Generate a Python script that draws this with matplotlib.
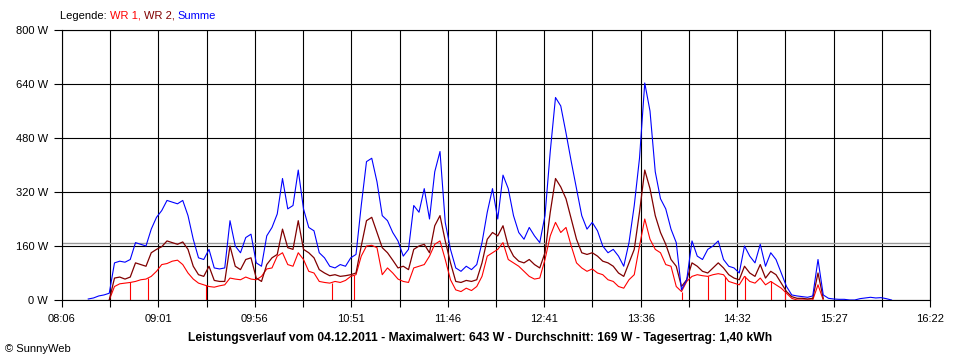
import numpy as np
import matplotlib.pyplot as plt

plt.rcParams['font.family'] = ['Liberation Sans', 'DejaVu Sans']
nan = np.nan

# sample times, minutes after midnight (every 3 min from 08:21)
minutes = np.arange(501, 961, 3)

summe = [3, 6, 12, 15, 20, 110, 115, 112, 120, 170,
         165, 160, 210, 245, 265, 295, 290, 285, 295, 250,
         180, 125, 120, 150, 95, 92, 95, 235, 160, 140,
         185, 195, 110, 100, 190, 215, 255, 360, 270, 280,
         385, 270, 215, 205, 140, 125, 100, 95, 105, 100,
         125, 135, 280, 410, 420, 350, 250, 235, 200, 175,
         130, 150, 280, 260, 330, 240, 380, 440, 230, 150,
         95, 85, 100, 90, 105, 170, 260, 330, 240, 370,
         330, 250, 200, 180, 215, 190, 170, 250, 440, 600,
         575, 495, 410, 330, 250, 210, 230, 205, 160, 140,
         150, 130, 100, 170, 280, 420, 643, 560, 380, 300,
         270, 210, 170, 30, 60, 175, 130, 120, 150, 160,
         175, 120, 100, 95, 80, 160, 130, 110, 165, 100,
         140, 120, 80, 40, 15, 12, 10, 8, 12, 120,
         15, 5, 3, 2, 2, 0, 0, 4, 6, 8,
         6, 7, 4, 0]

wr1 = [nan, nan, nan, nan, 0, 40, 48, 50, 52, 55,
       60, 62, 70, 85, 105, 108, 115, 118, 105, 80,
       62, 50, 45, 40, 38, 42, 45, 65, 62, 60,
       68, 62, 60, 70, 92, 95, 130, 140, 105, 100,
       140, 120, 85, 80, 55, 52, 50, 55, 52, 58,
       70, 75, 130, 160, 162, 155, 75, 95, 80, 62,
       55, 52, 95, 100, 105, 130, 165, 175, 120, 60,
       30, 25, 35, 28, 40, 70, 130, 140, 150, 170,
       120, 110, 100, 85, 70, 62, 65, 120, 190, 230,
       200, 215, 160, 110, 95, 85, 92, 80, 75, 60,
       55, 40, 35, 60, 75, 160, 240, 180, 150, 140,
       105, 100, 40, 25, 55, 70, 75, 72, 70, 75,
       78, 75, 55, 50, 45, 70, 55, 50, 65, 45,
       55, 45, 35, 20, 5, 0, 0, 0, 0, 45,
       0, nan, nan, nan, nan, nan, nan, nan, nan, nan,
       nan, nan, nan, nan]

wr2 = [nan, nan, nan, nan, 0, 65, 68, 62, 68, 110,
       105, 100, 140, 150, 158, 175, 170, 165, 172, 150,
       100, 75, 70, 100, 58, 55, 55, 160, 100, 90,
       120, 125, 65, 55, 105, 125, 135, 210, 155, 150,
       235, 150, 140, 125, 90, 80, 72, 75, 70, 72,
       75, 80, 160, 235, 245, 200, 155, 140, 118, 95,
       100, 90, 150, 160, 165, 140, 220, 250, 175, 110,
       55, 52, 58, 55, 60, 110, 180, 200, 190, 220,
       160, 130, 115, 110, 120, 105, 95, 140, 260, 360,
       335, 300, 240, 180, 140, 135, 140, 130, 115, 110,
       100, 80, 70, 110, 150, 260, 385, 330, 250, 200,
       165, 120, 100, 40, 60, 110, 100, 85, 80, 95,
       110, 95, 75, 65, 60, 100, 80, 70, 105, 65,
       85, 75, 50, 25, 10, 5, 5, 3, 5, 80,
       5, nan, nan, nan, nan, nan, nan, nan, nan, nan,
       nan, nan, nan, nan]

# short drop-outs of WR 1 to zero
wr1_dips = ["08:45", "08:55", "09:28", "10:40", "10:53", "14:00",
            "14:15", "14:25", "14:36", "14:51", "14:59"]

average = 169
x_labels = ["08:06", "09:01", "09:56", "10:51", "11:46",
            "12:41", "13:36", "14:32", "15:27", "16:22"]
y_ticks = [0, 160, 320, 480, 640, 800]


def to_min(s):
    h, m = s.split(":")
    return int(h) * 60 + int(m)


fig = plt.figure(figsize=(9.6, 3.6), dpi=100)
ax = fig.add_axes([62 / 960, 60 / 360, 868 / 960, 270 / 360])

t0, t1 = to_min(x_labels[0]), to_min(x_labels[-1])
ax.set_xlim(t0, t1)
ax.set_ylim(0, 800)

# grid
xt = np.linspace(t0, t1, 19)
ax.set_xticks(xt)
ax.set_xticklabels([x_labels[i // 2] if i % 2 == 0 else "" for i in range(19)])
ax.set_yticks(y_ticks)
ax.set_yticklabels([f"{v} W" for v in y_ticks])
ax.grid(True, color='black', linewidth=0.8)
ax.set_axisbelow(True)
for sp in ax.spines.values():
    sp.set_linewidth(0.8)
ax.tick_params(axis='x', length=5, width=0.8, pad=5, labelsize=8)
ax.tick_params(axis='y', length=6, width=0.8, pad=4, labelsize=8)

# average line
ax.axhline(average, color='#999999', linewidth=1.0)

# data
ax.plot(minutes, wr1, color='#ff0000', linewidth=0.8)
dips = np.array([to_min(s) for s in wr1_dips])
ax.vlines(dips, 0, np.interp(dips, minutes, np.nan_to_num(wr1)), color='#ff0000', linewidth=0.8)
ax.plot(minutes, wr2, color='#800000', linewidth=0.9)
ax.plot(minutes, summe, color='#0000ff', linewidth=0.8)

# legend line at the top
txt = fig.text(60 / 960, 1 - 16 / 360, "Legende: ", fontsize=8, va='center', color='black')
for s, c in [("WR 1, ", '#ff0000'), ("WR 2, ", '#800000'), ("Summe", '#0000ff')]:
    txt = ax.annotate(s, xy=(1, 0), xycoords=txt, fontsize=8, va='bottom', color=c)

fig.text(0.5, 1 - 338 / 360,
         "Leistungsverlauf vom 04.12.2011 - Maximalwert: 643 W - Durchschnitt: 169 W - Tagesertrag: 1,40 kWh",
         ha='center', va='center', fontsize=8.7, fontweight='bold')
fig.text(5 / 960, 1 - 349 / 360, "© SunnyWeb", fontsize=8, va='center')

fig.savefig("out.png", dpi=100, facecolor='white')
